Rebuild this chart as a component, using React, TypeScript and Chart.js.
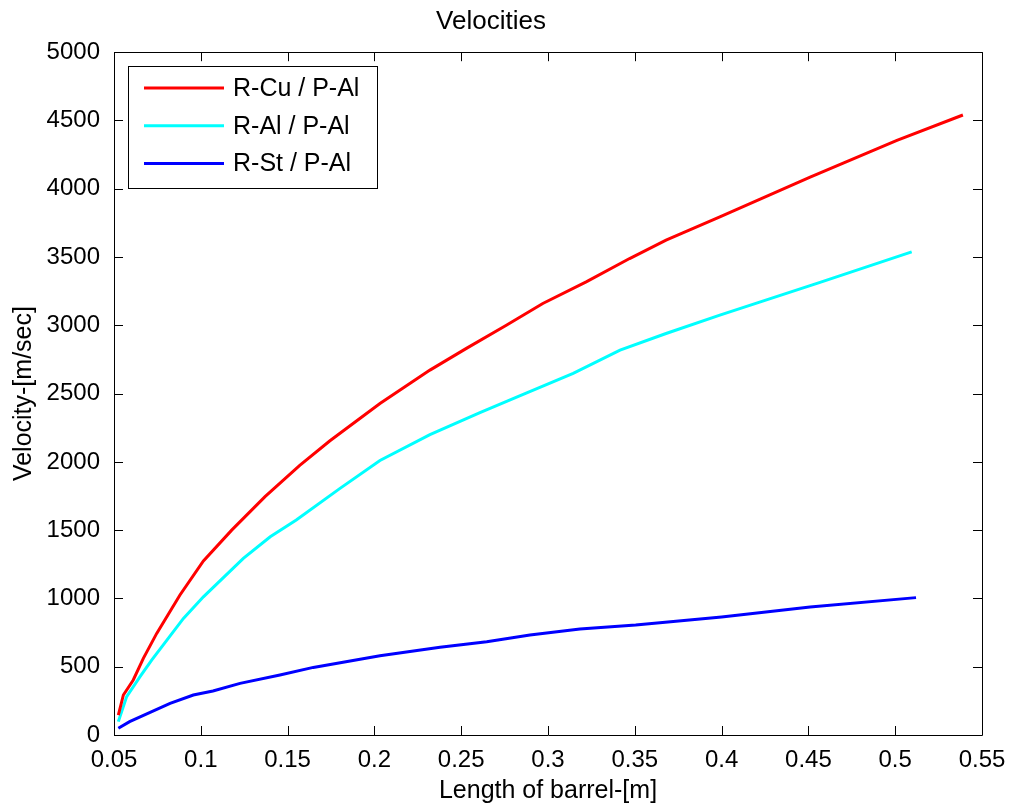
import React, { useEffect, useRef } from "react";
import { Chart, registerables } from "chart.js";

Chart.register(...registerables);

const FONT = "'Liberation Sans', Arial, Helvetica, sans-serif";

// Series names and colours
const seriesLabels = ["R-Cu / P-Al", "R-Al / P-Al", "R-St / P-Al"];
const seriesColors = ["#ff0000", "#00ffff", "#0000ff"];

// R-Cu / P-Al
const cuX = [0.0525, 0.0554, 0.0611, 0.0669, 0.0746, 0.088, 0.1015, 0.1178, 0.137, 0.157, 0.1744, 0.2032, 0.232, 0.253, 0.276, 0.297, 0.322, 0.347, 0.368, 0.399, 0.451, 0.501, 0.539];
const cuY = [146, 293, 403, 561, 744, 1025, 1275, 1500, 1745, 1975, 2155, 2428, 2672, 2831, 3001, 3160, 3318, 3489, 3624, 3794, 4085, 4355, 4540];

// R-Al / P-Al
const alX = [0.0525, 0.0573, 0.065, 0.0717, 0.09, 0.1015, 0.1245, 0.14, 0.155, 0.1802, 0.2032, 0.232, 0.2608, 0.284, 0.3145, 0.3415, 0.368, 0.399, 0.4567, 0.5095];
const alY = [98, 281, 427, 549, 854, 1012, 1293, 1452, 1574, 1806, 2010, 2200, 2360, 2485, 2648, 2818, 2940, 3075, 3315, 3538];

// R-St / P-Al
const stX = [0.0525, 0.059, 0.0823, 0.0957, 0.107, 0.1226, 0.1456, 0.1648, 0.2032, 0.2378, 0.2647, 0.2896, 0.3184, 0.3505, 0.4, 0.451, 0.512];
const stY = [49, 98, 232, 293, 322, 378, 439, 495, 581, 642, 683, 732, 776, 805, 864, 937, 1006];

// Axis ranges / ticks
const xMin = 0.05;
const xMax = 0.55;
const xStep = 0.05;
const yMin = 0;
const yMax = 5000;
const yStep = 500;

const titleText = "Velocities";
const xTitle = "Length of barrel-[m]";
const yTitle = "Velocity-[m/sec]";

const toPoints = (xs: number[], ys: number[]) => xs.map((x, i) => ({ x, y: ys[i] }));

const boxPlugin = {
  id: "matlabBox",
  afterDatasetsDraw(chart: any) {
    const { ctx, chartArea } = chart;
    const { left, right, top, bottom } = chartArea;
    const xs = chart.scales.x;
    const ys = chart.scales.y;
    const tl = 9;
    ctx.save();
    ctx.strokeStyle = "#000";
    ctx.lineWidth = 1;
    ctx.beginPath();
    ctx.rect(Math.round(left) + 0.5, Math.round(top) + 0.5, Math.round(right - left), Math.round(bottom - top));
    ctx.stroke();
    ctx.beginPath();
    xs.ticks.forEach((t: any) => {
      const p = Math.round(xs.getPixelForValue(t.value)) + 0.5;
      ctx.moveTo(p, bottom);
      ctx.lineTo(p, bottom - tl);
      ctx.moveTo(p, top);
      ctx.lineTo(p, top + tl);
    });
    ys.ticks.forEach((t: any) => {
      const p = Math.round(ys.getPixelForValue(t.value)) + 0.5;
      ctx.moveTo(left, p);
      ctx.lineTo(left + tl, p);
      ctx.moveTo(right, p);
      ctx.lineTo(right - tl, p);
    });
    ctx.stroke();

    // Legend inside plot (top-left)
    const lx = 128, ly = 66, lw = 249, lh = 122;
    ctx.fillStyle = "#fff";
    ctx.fillRect(lx, ly, lw, lh);
    ctx.strokeStyle = "#000";
    ctx.lineWidth = 1;
    ctx.strokeRect(lx + 0.5, ly + 0.5, lw, lh);
    ctx.font = `25px ${FONT}`;
    ctx.textBaseline = "middle";
    ctx.textAlign = "left";
    chart.data.datasets.forEach((ds: any, i: number) => {
      const y = 88 + i * 37.7;
      ctx.strokeStyle = ds.borderColor;
      ctx.lineWidth = 3;
      ctx.beginPath();
      ctx.moveTo(144, y);
      ctx.lineTo(224, y);
      ctx.stroke();
      ctx.fillStyle = "#000";
      ctx.fillText(ds.label, 233, y + 1);
    });
    ctx.restore();
  },
};

export default function App() {
  const ref = useRef<HTMLCanvasElement | null>(null);

  useEffect(() => {
    document.body.style.margin = "0";
    const canvas = ref.current;
    if (!canvas) return;
    const chart = new Chart(canvas, {
      type: "line",
      data: {
        datasets: [
          { label: seriesLabels[0], data: toPoints(cuX, cuY), borderColor: seriesColors[0], backgroundColor: seriesColors[0] },
          { label: seriesLabels[1], data: toPoints(alX, alY), borderColor: seriesColors[1], backgroundColor: seriesColors[1] },
          { label: seriesLabels[2], data: toPoints(stX, stY), borderColor: seriesColors[2], backgroundColor: seriesColors[2] },
        ].map((d) => ({ ...d, borderWidth: 3, pointRadius: 0, tension: 0, fill: false })),
      },
      options: {
        responsive: false,
        animation: false,
        devicePixelRatio: 1,
        layout: { padding: { left: 0, right: 32, top: 0, bottom: 0 } },
        plugins: {
          legend: { display: false },
          tooltip: { enabled: false },
          title: {
            display: true,
            text: titleText,
            color: "#000",
            font: { family: FONT, size: 26, weight: "normal" },
            padding: { top: 6, bottom: 15 },
          },
        },
        scales: {
          x: {
            type: "linear",
            min: xMin,
            max: xMax,
            grid: { display: false },
            border: { display: false },
            ticks: {
              stepSize: xStep,
              autoSkip: false,
              maxRotation: 0,
              padding: 3,
              color: "#000",
              font: { family: FONT, size: 24 },
              callback: (v: any) => String(parseFloat(Number(v).toFixed(2))),
            },
            title: {
              display: true,
              text: xTitle,
              color: "#000",
              font: { family: FONT, size: 25 },
              padding: { top: 0, bottom: 2 },
            },
            afterFit: (s: any) => {
              s.height = 73;
            },
          },
          y: {
            type: "linear",
            min: yMin,
            max: yMax,
            grid: { display: false },
            border: { display: false },
            ticks: {
              stepSize: yStep,
              padding: 6,
              color: "#000",
              font: { family: FONT, size: 24 },
              callback: (v: any) => String(v),
            },
            title: {
              display: true,
              text: yTitle,
              color: "#000",
              font: { family: FONT, size: 25 },
              padding: { top: 9, bottom: 0 },
            },
            afterFit: (s: any) => {
              s.width = 114;
            },
          },
        },
      } as any,
      plugins: [boxPlugin],
    });
    return () => chart.destroy();
  }, []);

  return (
    <div style={{ position: "absolute", left: 0, top: 0, width: 1014, height: 808, background: "#fff" }}>
      <canvas ref={ref} width={1014} height={808} />
    </div>
  );
}
